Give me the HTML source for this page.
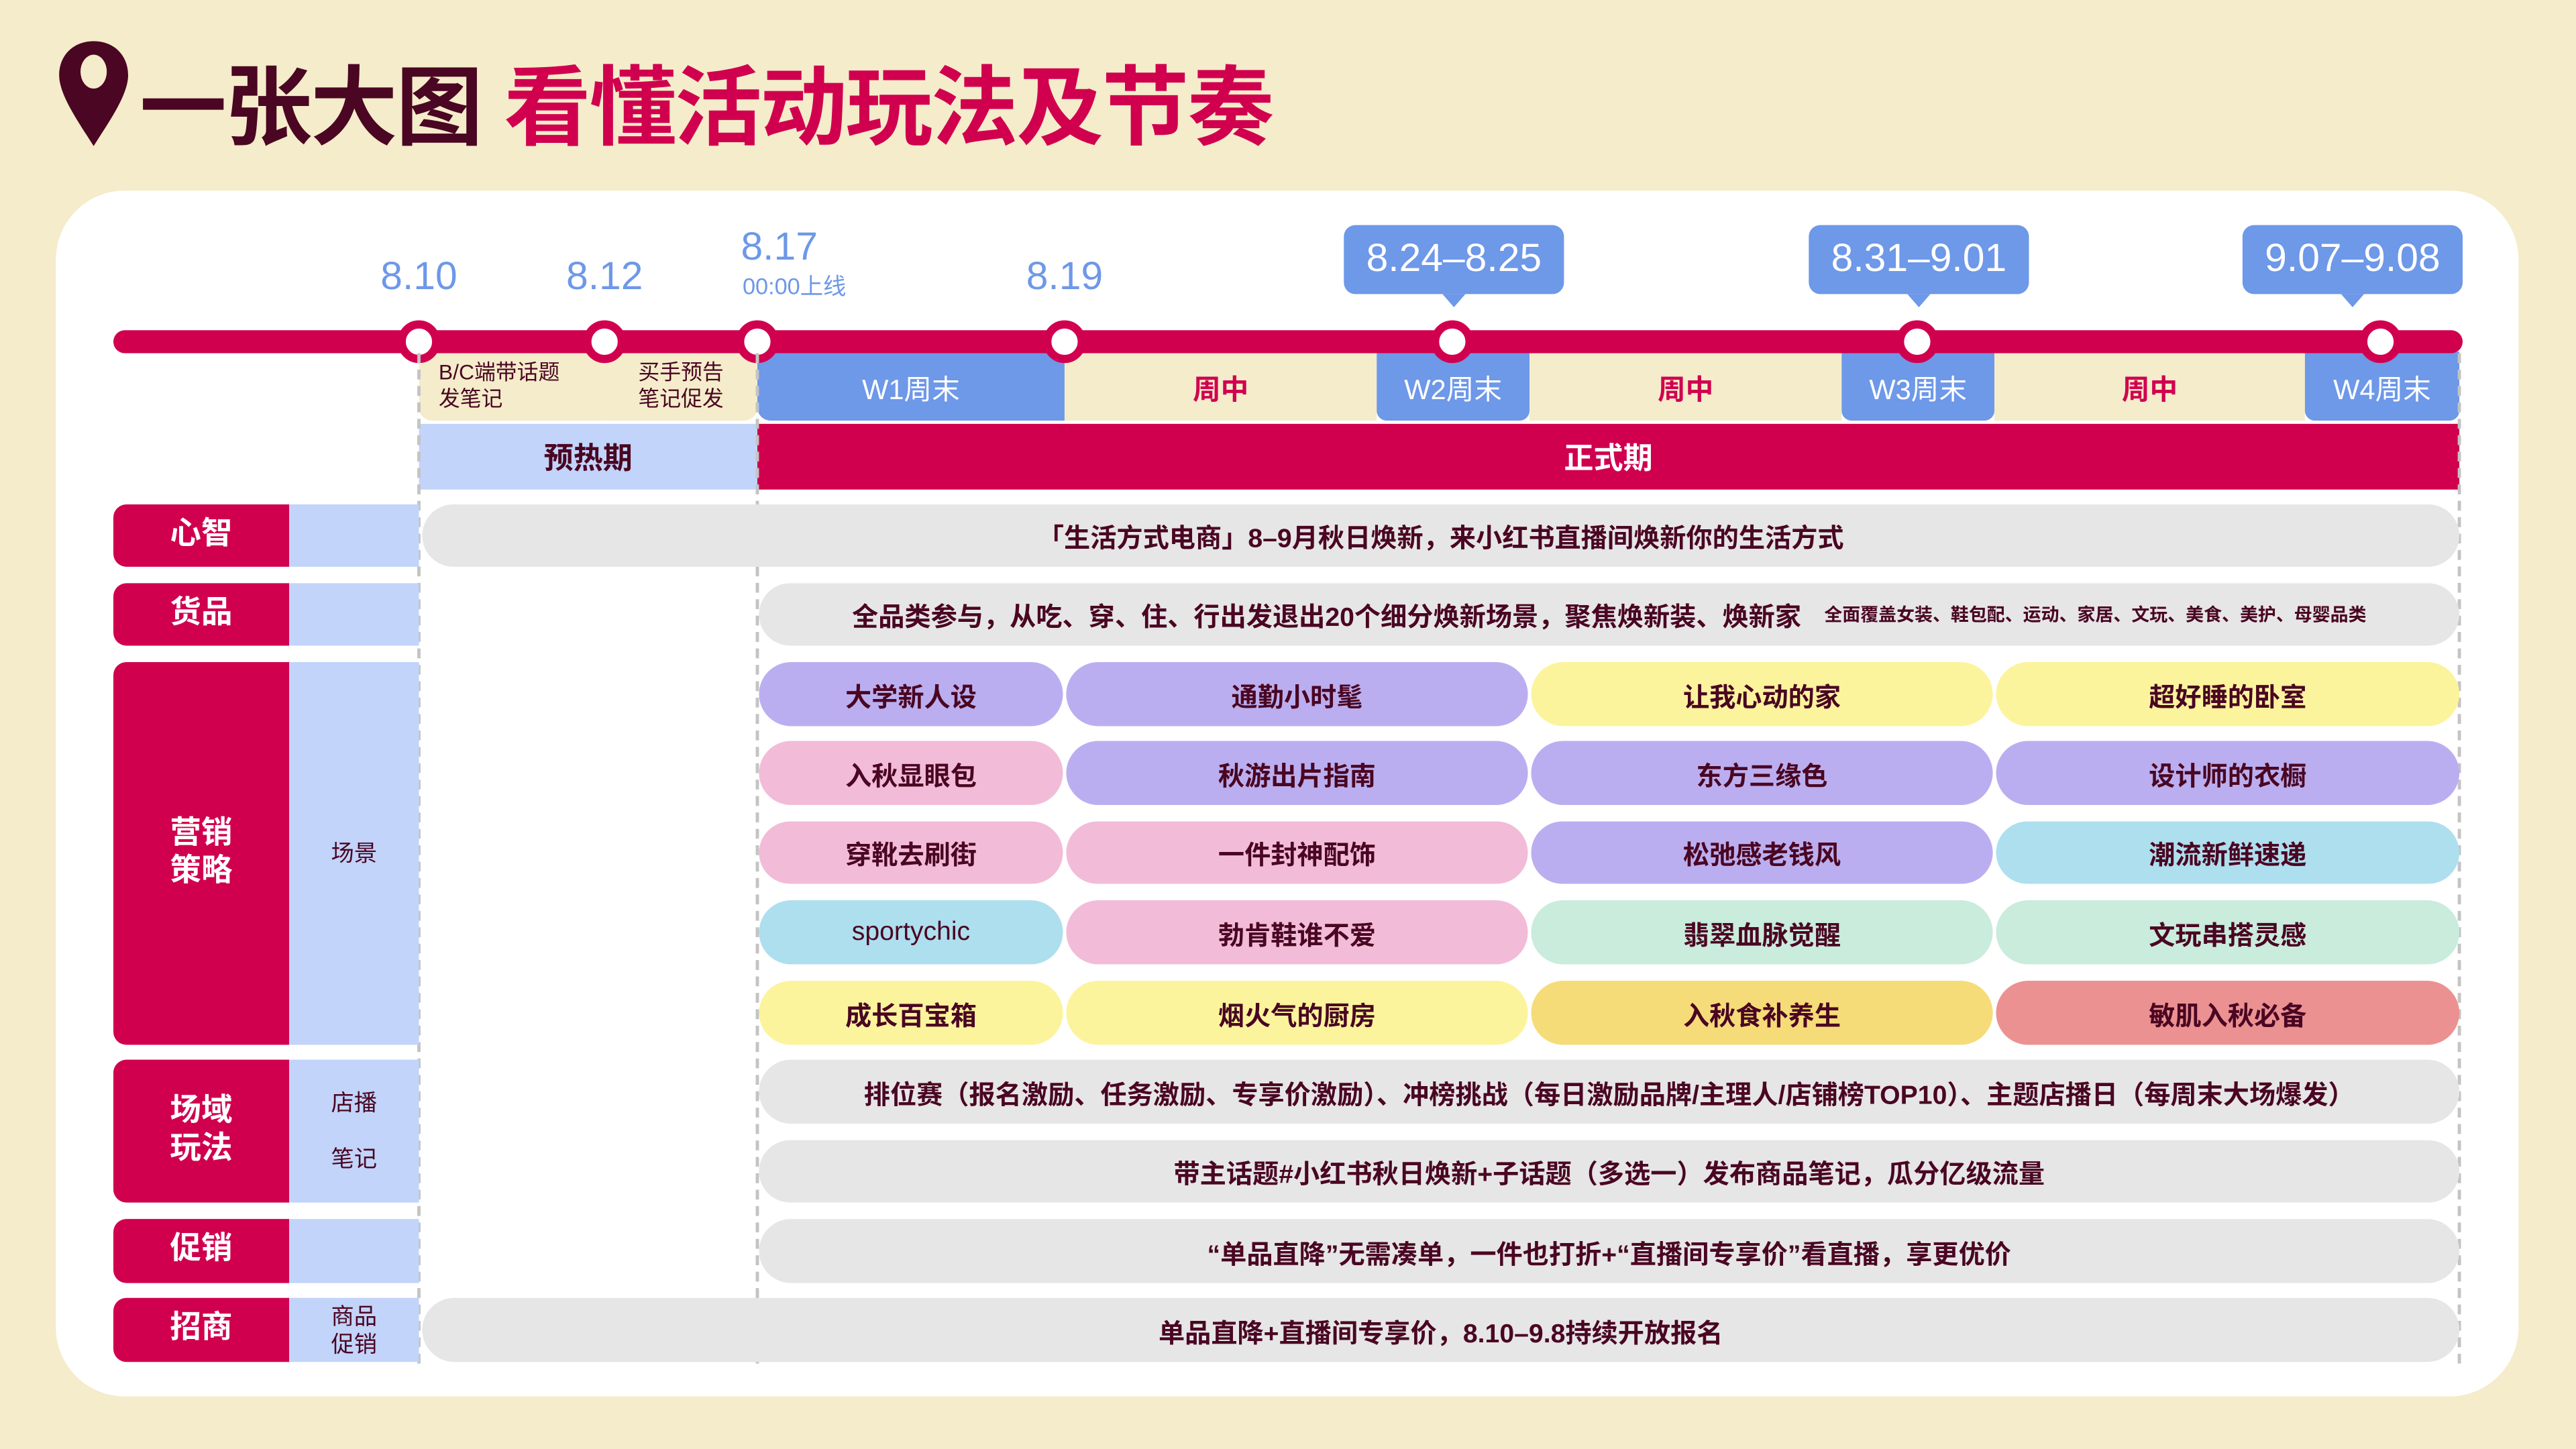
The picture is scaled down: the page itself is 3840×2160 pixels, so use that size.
<!DOCTYPE html>
<html><head><meta charset="utf-8"><style>
*{margin:0;padding:0;box-sizing:border-box}
html,body{width:3840px;height:2160px;overflow:hidden;background:#f4ecca}
#s{position:absolute;left:0;top:0;width:1568px;height:882px;transform:scale(2.44898);transform-origin:0 0;font-family:"Liberation Sans","Noto Sans CJK SC",sans-serif;color:#4a0622}
.a{position:absolute}
.c{position:absolute;display:flex;align-items:center;justify-content:center;text-align:center;font-weight:bold}
.p{border-radius:20px;font-size:16px}
.g{background:#e6e6e6}
.L{background:#d0004f;color:#fff;font-size:19px;border-radius:8px 0 0 8px;line-height:1.2}
.S{background:#c2d4fa;font-size:14px;font-weight:normal;line-height:1.2}
.dt{position:absolute;color:#6e98e8;font-size:24px;transform:translateX(-50%)}
.dot{position:absolute;width:26px;height:26px;border-radius:50%;background:#fff;border:5px solid #d0004f;top:195px;margin-left:-13px}
.bub{position:absolute;top:137px;height:42px;width:134px;background:#6e98e8;color:#fff;font-size:24px;border-radius:7px;display:flex;align-items:center;justify-content:center}
.bub:after{content:"";position:absolute;left:60px;bottom:-8px;border-left:7px solid transparent;border-right:7px solid transparent;border-top:8px solid #6e98e8}
.dash{position:absolute;top:215px;height:615px;border-left:2px dashed #c4c4c4}
.w{background:#6e98e8;color:#fff;font-size:17px;font-weight:normal}
.m{background:#f4ecca;color:#d0004f;font-size:17px}
.pu{background:#bbaef0}.ye{background:#fbf49c}.pk{background:#f2bcd8}.cy{background:#aedfee}.mi{background:#c9ecdc}.go{background:#f5dc78}.sa{background:#ec9191}
</style></head><body><div id="s">
<svg class="a" style="left:33px;top:23px" width="48" height="68" viewBox="0 0 48 66" preserveAspectRatio="none"><path d="M24 2C11 2 3 11 3 22C3 34 15 50 24 64C33 50 45 34 45 22C45 11 37 2 24 2Z" fill="#4a0622"/><ellipse cx="24" cy="20" rx="8" ry="10" fill="#f4ecca"/></svg>
<div class="a" style="left:85px;top:24px;font-size:53px;font-weight:bold;color:#4a0622;letter-spacing:-1px;white-space:nowrap">一张大图 <span style="color:#d0004f">看懂活动玩法及节奏</span></div>
<div class="a" style="left:34px;top:116px;width:1499px;height:734px;background:#fff;border-radius:42px"></div>
<div class="dt" style="left:255px;top:155px">8.10</div>
<div class="dt" style="left:368px;top:155px">8.12</div>
<div class="a" style="left:451px;top:137px;color:#6e98e8;font-size:24px">8.17</div>
<div class="a" style="left:452px;top:164px;color:#6e98e8;font-size:14px">00:00上线</div>
<div class="dt" style="left:648px;top:155px">8.19</div>
<div class="bub" style="left:818px">8.24–8.25</div>
<div class="bub" style="left:1101px">8.31–9.01</div>
<div class="bub" style="left:1365px">9.07–9.08</div>
<div class="c m" style="left:255px;top:214px;width:113px;height:42px;font-size:13px;color:#4a0622;justify-content:flex-start;padding-left:12px;text-align:left;line-height:1.25;font-weight:normal;border-radius:0 0 0 8px">B/C端带话题<br>发笔记</div>
<div class="c m" style="left:368px;top:214px;width:93px;height:42px;font-size:13px;color:#4a0622;line-height:1.25;font-weight:normal;border-radius:0 0 8px 0">买手预告<br>笔记促发</div>
<div class="c w" style="left:461px;top:214px;width:187px;height:42px;border-radius:0 0 0 8px">W1周末</div>
<div class="c m" style="left:648px;top:214px;width:190px;height:42px">周中</div>
<div class="c w" style="left:838px;top:214px;width:93px;height:42px;border-radius:0 0 6px 6px">W2周末</div>
<div class="c m" style="left:931px;top:214px;width:190px;height:42px">周中</div>
<div class="c w" style="left:1121px;top:214px;width:93px;height:42px;border-radius:0 0 6px 6px">W3周末</div>
<div class="c m" style="left:1214px;top:214px;width:189px;height:42px">周中</div>
<div class="c w" style="left:1403px;top:214px;width:94px;height:42px;border-radius:0 0 6px 6px">W4周末</div>
<div class="a" style="left:69px;top:201px;width:1430px;height:14px;background:#d0004f;border-radius:7px"></div>
<div class="dot" style="left:255px"></div><div class="dot" style="left:368px"></div><div class="dot" style="left:461px"></div><div class="dot" style="left:648px"></div><div class="dot" style="left:884px"></div><div class="dot" style="left:1167px"></div><div class="dot" style="left:1449px"></div>
<div class="c" style="left:255px;top:258px;width:206px;height:40px;background:#c2d4fa;font-size:18px">预热期</div>
<div class="c" style="left:461px;top:258px;width:1036px;height:40px;background:#d0004f;color:#fff;font-size:18px">正式期</div>
<div class="dash" style="left:254px"></div><div class="dash" style="left:460px"></div><div class="dash" style="left:1496px"></div>

<div class="c L" style="left:69px;top:307px;width:107px;height:38px">心智</div><div class="c S" style="left:176px;top:307px;width:79px;height:38px"></div>
<div class="c L" style="left:69px;top:355px;width:107px;height:38px">货品</div><div class="c S" style="left:176px;top:355px;width:79px;height:38px"></div>
<div class="c L" style="left:69px;top:403px;width:107px;height:233px">营销<br>策略</div><div class="c S" style="left:176px;top:403px;width:79px;height:233px">场景</div>
<div class="c L" style="left:69px;top:645px;width:107px;height:87px">场域<br>玩法</div><div class="c S" style="left:176px;top:645px;width:79px;height:87px;flex-direction:column;justify-content:space-around">店播<br><br>笔记</div>
<div class="c L" style="left:69px;top:742px;width:107px;height:39px">促销</div><div class="c S" style="left:176px;top:742px;width:79px;height:39px"></div>
<div class="c L" style="left:69px;top:790px;width:107px;height:39px">招商</div><div class="c S" style="left:176px;top:790px;width:79px;height:39px">商品<br>促销</div>

<div class="c p g" style="left:257px;top:307px;width:1240px;height:38px">「生活方式电商」8–9月秋日焕新，来小红书直播间焕新你的生活方式</div>
<div class="c p g" style="left:462px;top:355px;width:1035px;height:38px">全品类参与，从吃、穿、住、行出发退出20个细分焕新场景，聚焦焕新装、焕新家<span style="font-size:11px;margin-left:14px">全面覆盖女装、鞋包配、运动、家居、文玩、美食、美护、母婴品类</span></div>

<div class="c p pu" style="left:462px;top:403px;width:185px;height:39px">大学新人设</div>
<div class="c p pu" style="left:649px;top:403px;width:281px;height:39px">通勤小时髦</div>
<div class="c p ye" style="left:932px;top:403px;width:281px;height:39px">让我心动的家</div>
<div class="c p ye" style="left:1215px;top:403px;width:282px;height:39px">超好睡的卧室</div>
<div class="c p pk" style="left:462px;top:451px;width:185px;height:39px">入秋显眼包</div>
<div class="c p pu" style="left:649px;top:451px;width:281px;height:39px">秋游出片指南</div>
<div class="c p pu" style="left:932px;top:451px;width:281px;height:39px">东方三缘色</div>
<div class="c p pu" style="left:1215px;top:451px;width:282px;height:39px">设计师的衣橱</div>
<div class="c p pk" style="left:462px;top:500px;width:185px;height:38px">穿靴去刷街</div>
<div class="c p pk" style="left:649px;top:500px;width:281px;height:38px">一件封神配饰</div>
<div class="c p pu" style="left:932px;top:500px;width:281px;height:38px">松弛感老钱风</div>
<div class="c p cy" style="left:1215px;top:500px;width:282px;height:38px">潮流新鲜速递</div>
<div class="c p cy" style="left:462px;top:548px;width:185px;height:39px;font-weight:normal">sportychic</div>
<div class="c p pk" style="left:649px;top:548px;width:281px;height:39px">勃肯鞋谁不爱</div>
<div class="c p mi" style="left:932px;top:548px;width:281px;height:39px">翡翠血脉觉醒</div>
<div class="c p mi" style="left:1215px;top:548px;width:282px;height:39px">文玩串搭灵感</div>
<div class="c p ye" style="left:462px;top:597px;width:185px;height:39px">成长百宝箱</div>
<div class="c p ye" style="left:649px;top:597px;width:281px;height:39px">烟火气的厨房</div>
<div class="c p go" style="left:932px;top:597px;width:281px;height:39px">入秋食补养生</div>
<div class="c p sa" style="left:1215px;top:597px;width:282px;height:39px">敏肌入秋必备</div>

<div class="c p g" style="left:462px;top:645px;width:1035px;height:39px">排位赛（报名激励、任务激励、专享价激励）、冲榜挑战（每日激励品牌/主理人/店铺榜TOP10）、主题店播日（每周末大场爆发）</div>
<div class="c p g" style="left:462px;top:694px;width:1035px;height:38px">带主话题#小红书秋日焕新+子话题（多选一）发布商品笔记，瓜分亿级流量</div>
<div class="c p g" style="left:462px;top:742px;width:1035px;height:39px">“单品直降”无需凑单，一件也打折+“直播间专享价”看直播，享更优价</div>
<div class="c p g" style="left:257px;top:790px;width:1240px;height:39px">单品直降+直播间专享价，8.10–9.8持续开放报名</div>
</div></body></html>
